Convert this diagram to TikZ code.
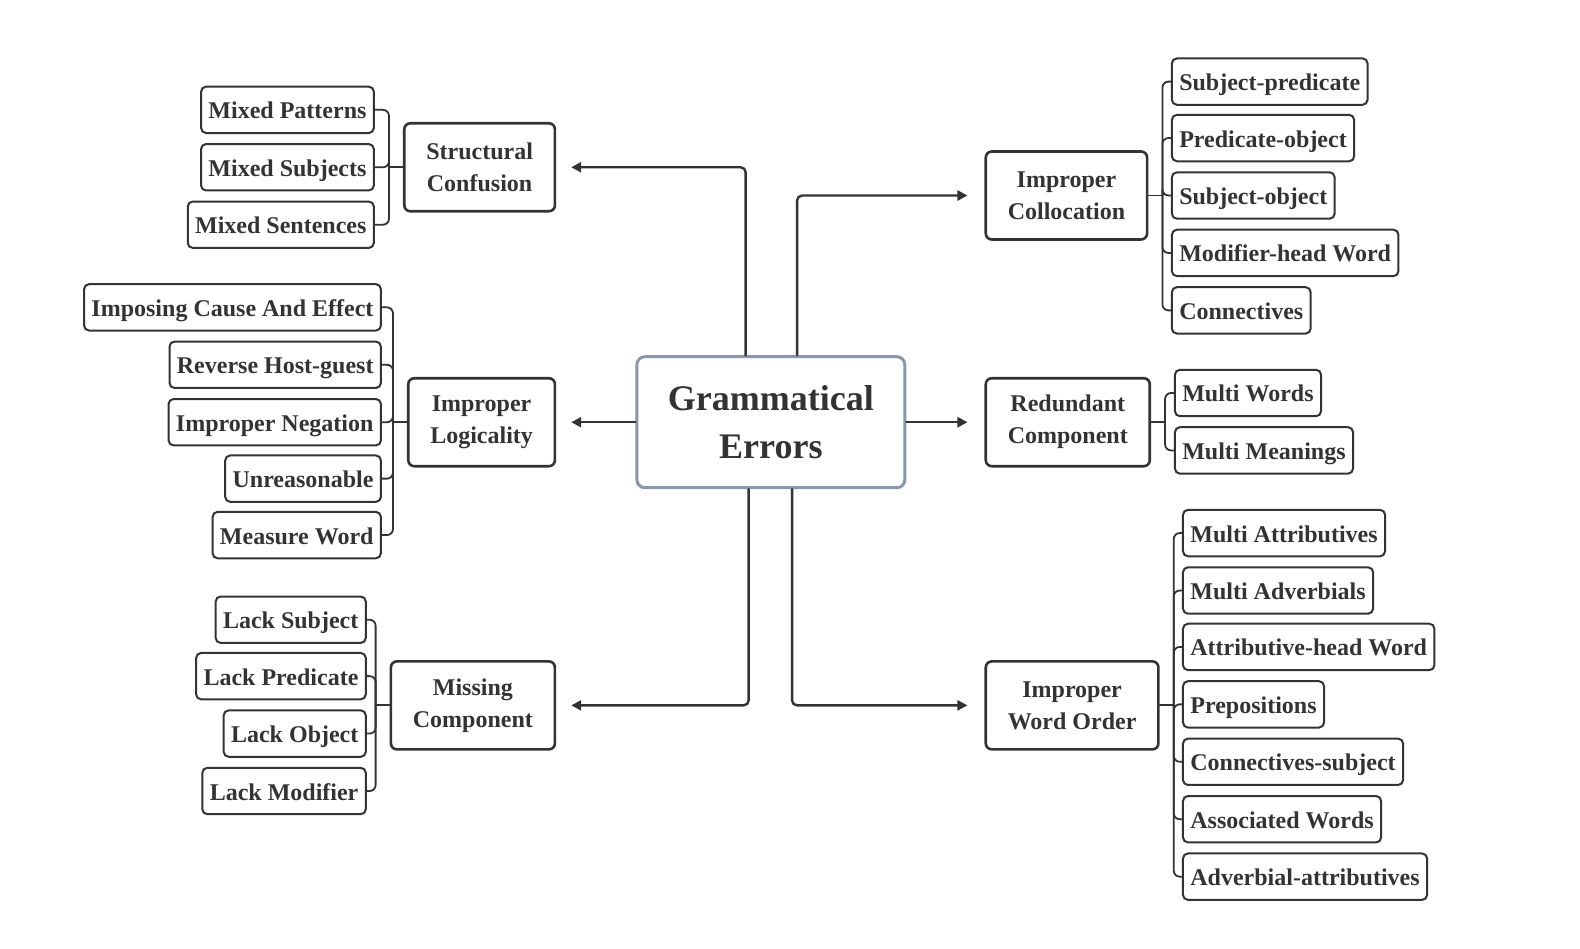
\documentclass[tikz,border=0pt]{standalone}
\usepackage{fontspec}
\setmainfont{Liberation Serif}
\usetikzlibrary{arrows.meta}
\definecolor{inkgray}{HTML}{333333}
\definecolor{hubblue}{HTML}{8A97AB}
\tikzset{
  hub/.style={draw=hubblue, line width=1.5pt, rounded corners=4pt, fill=white,
              align=center, minimum width=134pt, minimum height=65.5pt,
              font=\fontsize{18}{24}\selectfont\bfseries, text=inkgray},
  branch/.style={draw=inkgray, line width=1.3pt, rounded corners=3pt, align=center,
                 inner xsep=11pt, minimum height=44pt,
                 font=\fontsize{12}{16}\selectfont\bfseries, text=inkgray},
  leaf/.style={draw=inkgray, line width=1pt, rounded corners=2.5pt, inner xsep=3.7pt,
               text height=10pt, text depth=1pt, minimum height=23.2pt,
               font=\fontsize{12}{14}\selectfont\bfseries, text=inkgray},
  arr/.style={draw=inkgray, line width=1.2pt, rounded corners=2.5pt,
              -{Triangle[length=5pt,width=5pt]}},
  bracket/.style={draw=inkgray, line width=0.9pt, rounded corners=3pt},
}
\begin{document}
\begin{tikzpicture}[x=0.50385pt, y=-0.50385pt, line cap=round]
\useasboundingbox (0,0) rectangle (1568,941);

% centre
\node[hub] (ge) at (765,419) {Grammatical\\Errors};

% second level
\node[branch, anchor=east] (sc) at (552,166) {Structural\\Confusion};
\node[branch, anchor=east] (il) at (552,419) {Improper\\Logicality};
\node[branch, anchor=east] (mc) at (552,700) {Missing\\Component};
\node[branch, anchor=west] (ic) at (977,194) {Improper\\Collocation};
\node[branch, anchor=west] (rc) at (977,419) {Redundant\\Component};
\node[branch, anchor=west] (iw) at (977,700) {Improper\\Word Order};

\draw[arr] ([xshift=-12.6pt]ge.north) |- ([xshift=7.5pt]sc.east);
\draw[arr] ([xshift=13.1pt]ge.north) |- ([xshift=-8.5pt]ic.west);
\draw[arr] (ge.west) -- ([xshift=7.5pt]il.east);
\draw[arr] (ge.east) -- ([xshift=-8.5pt]rc.west);
\draw[arr] ([xshift=-11.1pt]ge.south) |- ([xshift=7.5pt]mc.east);
\draw[arr] ([xshift=10.6pt]ge.south) |- ([xshift=-8.5pt]iw.west);

% junctions
\coordinate (scj) at ([xshift=-7pt]sc.west);
\coordinate (ilj) at ([xshift=-7pt]il.west);
\coordinate (mcj) at ([xshift=-7pt]mc.west);
\coordinate (icj) at ([xshift=7pt]ic.east);
\coordinate (rcj) at ([xshift=7pt]rc.east);
\coordinate (iwj) at ([xshift=7pt]iw.east);
\draw[bracket] (sc.west) -- (scj);
\draw[bracket] (il.west) -- (ilj);
\draw[bracket] (mc.west) -- (mcj);
\draw[bracket] (ic.east) -- (icj);
\draw[bracket] (rc.east) -- (rcj);
\draw[bracket] (iw.east) -- (iwj);

% leaves, left
\foreach \i/\txt/\y in {1/Mixed Patterns/109, 2/Mixed Subjects/166,
                        3/Mixed Sentences/223}{
  \node[leaf, anchor=east] (sc\i) at (372,\y) {\txt};
  \draw[bracket] (scj) |- (sc\i.east);
}
\foreach \i/\txt/\y in {1/Imposing Cause And Effect/305, 2/Reverse Host-guest/362,
                        3/Improper Negation/419, 4/Unreasonable/475,
                        5/Measure Word/531}{
  \node[leaf, anchor=east] (il\i) at (379,\y) {\txt};
  \draw[bracket] (ilj) |- (il\i.east);
}
\foreach \i/\txt/\y in {1/Lack Subject/615, 2/Lack Predicate/671,
                        3/Lack Object/728, 4/Lack Modifier/785}{
  \node[leaf, anchor=east] (mc\i) at (364,\y) {\txt};
  \draw[bracket] (mcj) |- (mc\i.east);
}

% leaves, right
\foreach \i/\txt/\y in {1/Subject-predicate/81, 2/Predicate-object/137,
                        3/Subject-object/194, 4/Modifier-head Word/251,
                        5/Connectives/308}{
  \node[leaf, anchor=west] (ic\i) at (1162,\y) {\txt};
  \draw[bracket] (icj) |- (ic\i.west);
}
\foreach \i/\txt/\y in {1/Multi Words/390, 2/Multi Meanings/447}{
  \node[leaf, anchor=west] (rc\i) at (1165,\y) {\txt};
  \draw[bracket] (rcj) |- (rc\i.west);
}
\foreach \i/\txt/\y in {1/Multi Attributives/529, 2/Multi Adverbials/586,
                        3/Attributive-head Word/642, 4/Prepositions/699,
                        5/Connectives-subject/756, 6/Associated Words/813,
                        7/Adverbial-attributives/870}{
  \node[leaf, anchor=west] (iw\i) at (1173,\y) {\txt};
  \draw[bracket] (iwj) |- (iw\i.west);
}
\end{tikzpicture}
\end{document}
